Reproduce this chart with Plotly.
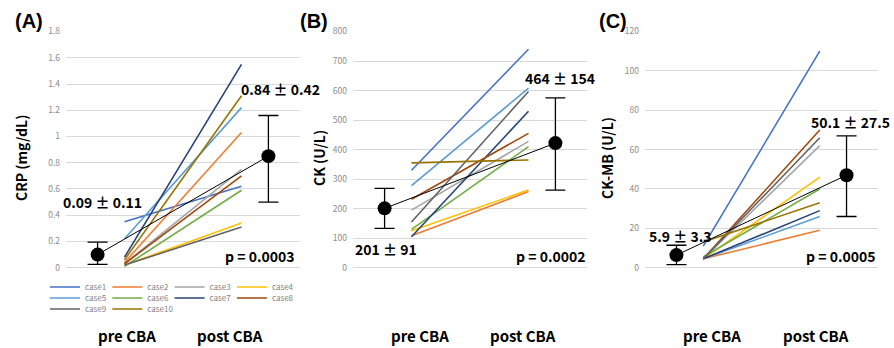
import plotly.graph_objects as go

W, H = 894, 348

# ---------------- data ----------------
categories = ["pre CBA", "post CBA"]
case_names = ["case1", "case2", "case3", "case4", "case5",
              "case6", "case7", "case8", "case9", "case10"]
case_colors = ["#4472C4", "#ED7D31", "#A5A5A5", "#FFC000", "#5B9BD5",
               "#70AD47", "#264478", "#9E480E", "#636363", "#997300"]

crp_pre = [0.35, 0.04, 0.03, 0.02, 0.22, 0.01, 0.08, 0.03, 0.02, 0.06]
crp_post = [0.62, 1.03, 0.75, 0.34, 1.22, 0.59, 1.55, 0.70, 0.31, 1.31]
ck_pre = [330, 108, 195, 125, 278, 130, 105, 232, 155, 355]
ck_post = [740, 258, 428, 263, 608, 410, 530, 455, 597, 365]
ckmb_pre = [11, 4.5, 4.5, 4.5, 4.5, 5.5, 4.5, 4.5, 4.5, 13]
ckmb_post = [110, 19, 62, 46, 26, 40, 29, 70, 66, 33]

crp_mean = [0.10, 0.85]
crp_err_up = [0.095, 0.31]
crp_err_dn = [0.075, 0.35]
ck_mean = [201, 422]
ck_err_up = [68, 153]
ck_err_dn = [68, 159]
ckmb_mean = [6.4, 47]
ckmb_err_up = [5.0, 20]
ckmb_err_dn = [4.8, 21]

mean_labels = {
    "A": ["0.09 ± 0.11", "0.84 ± 0.42"],
    "B": ["201 ± 91", "464 ± 154"],
    "C": ["5.9 ± 3.3", "50.1 ± 27.5"],
}
p_values = ["p = 0.0003", "p = 0.0002", "p = 0.0005"]
y_titles = ["CRP (mg/dL)", "CK (U/L)", "CK-MB (U/L)"]
panel_titles = ["(A)", "(B)", "(C)"]

case_x = [0.5, 1.5]      # category centres on a 0..2 axis
mean_x = [0.27, 1.73]    # mean markers dodged outside the case lines

# ---------------- layout helpers ----------------
def px_x(p):
    return p / W

def px_y(p):
    return 1 - p / H

plot_left = [66, 353, 645]
plot_right = [300, 587, 878]
plot_top, plot_bottom = 31.5, 267.7

fig = go.Figure()

panels = [
    ("A", crp_pre, crp_post, crp_mean, crp_err_up, crp_err_dn, [0, 1.8001], 0.2),
    ("B", ck_pre, ck_post, ck_mean, ck_err_up, ck_err_dn, [0, 800.01], 100),
    ("C", ckmb_pre, ckmb_post, ckmb_mean, ckmb_err_up, ckmb_err_dn, [0, 120.001], 20),
]

legend_ids = ["legend"] + [f"legend{k}" for k in range(2, len(case_names) + 1)]

for i, (key, pre, post, mean, eu, ed, yr, dt) in enumerate(panels):
    xa = "x" if i == 0 else f"x{i+1}"
    ya = "y" if i == 0 else f"y{i+1}"
    for j, name in enumerate(case_names):
        fig.add_trace(go.Scatter(
            x=case_x, y=[pre[j], post[j]], mode="lines",
            line=dict(color=case_colors[j], width=1.6),
            name=name, legendgroup=name, showlegend=(i == 0),
            legend=legend_ids[j],
            xaxis=xa, yaxis=ya, hoverinfo="skip"))
    fig.add_trace(go.Scatter(
        x=mean_x, y=mean, mode="lines+markers",
        line=dict(color="black", width=1),
        marker=dict(color="black", size=14),
        error_y=dict(type="data", symmetric=False, array=eu, arrayminus=ed,
                     color="black", thickness=1.3, width=10),
        showlegend=False, xaxis=xa, yaxis=ya, hoverinfo="skip"))

    dom_x = [px_x(plot_left[i]), px_x(plot_right[i])]
    dom_y = [px_y(plot_bottom), px_y(plot_top)]
    sfx = "" if i == 0 else str(i + 1)
    fig.update_layout({
        f"xaxis{sfx}": dict(domain=dom_x, range=[0, 2], showgrid=False,
                            zeroline=False, showticklabels=False, showline=False,
                            anchor=ya, automargin=False),
        f"yaxis{sfx}": dict(domain=dom_y, range=yr, dtick=dt, tick0=0,
                            showgrid=True, gridcolor="#d9d9d9", gridwidth=1,
                            zeroline=True, zerolinecolor="#d9d9d9", zerolinewidth=1,
                            showline=False, ticks="", ticklabelstandoff=5,
                            automargin=False,
                            tickfont=dict(family="Noto Sans CJK JP", size=8.5,
                                          color="#8c8c8c"),
                            anchor=xa),
    })

annotations = []
bold = dict(family="Noto Sans CJK JP", size=14, color="black")

# panel titles
for t, x in zip(panel_titles, [13, 298, 597]):
    annotations.append(dict(text=f"<b>{t}</b>", x=px_x(x), y=px_y(21),
                            xref="paper", yref="paper", xanchor="left", yanchor="middle",
                            showarrow=False,
                            font=dict(family="Liberation Sans", size=20, color="black")))
# y titles
for t, x in zip(y_titles, [21, 319, 607]):
    annotations.append(dict(text=f"<b>{t}</b>", x=px_x(x), y=px_y(158),
                            xref="paper", yref="paper", xanchor="center", yanchor="middle",
                            textangle=-90, showarrow=False, font=bold))
# mean ± sd labels
label_pos = {
    "A": [(61, 202), (239, 89)],
    "B": [(353, 249), (523, 78)],
    "C": [(647, 236), (809, 122)],
}
for key in ["A", "B", "C"]:
    for txt, (x, y) in zip(mean_labels[key], label_pos[key]):
        annotations.append(dict(text=f"<b>{txt}</b>", x=px_x(x), y=px_y(y),
                                xref="paper", yref="paper", xanchor="left",
                                yanchor="middle", showarrow=False, font=bold))
# p values
for txt, x in zip(p_values, [296, 587, 877]):
    annotations.append(dict(text=f"<b>{txt}</b>", x=px_x(x), y=px_y(256),
                            xref="paper", yref="paper", xanchor="right",
                            yanchor="middle", showarrow=False, font=bold))
# category labels
cat_pos = [(127, 230), (420, 523), (712, 816)]
for (xp, xq) in cat_pos:
    for txt, x in zip(categories, [xp, xq]):
        annotations.append(dict(text=f"<b>{txt}</b>", x=px_x(x), y=px_y(335),
                                xref="paper", yref="paper", xanchor="center",
                                yanchor="middle", showarrow=False,
                                font=dict(family="Noto Sans CJK JP", size=15,
                                          color="black")))

leg_common = dict(orientation="h", xanchor="left", yanchor="middle",
                  itemwidth=30,
                  bgcolor="rgba(0,0,0,0)", borderwidth=0, tracegroupgap=0,
                  font=dict(family="Noto Sans CJK JP", size=8, color="#7f7f7f"))

legend_layout = {}
row_y = [287, 298, 309]
for j, lid in enumerate(legend_ids):
    col, row = j % 4, j // 4
    legend_layout[lid] = dict(x=px_x(45 + 62.3 * col), y=px_y(row_y[row]), **leg_common)

fig.update_layout(
    width=W, height=H,
    margin=dict(l=0, r=0, t=0, b=0, autoexpand=False),
    paper_bgcolor="white", plot_bgcolor="white",
    annotations=annotations,
    **legend_layout,
)

fig.write_html("out.html",
               config={"displayModeBar": False},
               post_script="document.body.style.margin='0';"
                           "document.body.style.overflow='hidden';")
